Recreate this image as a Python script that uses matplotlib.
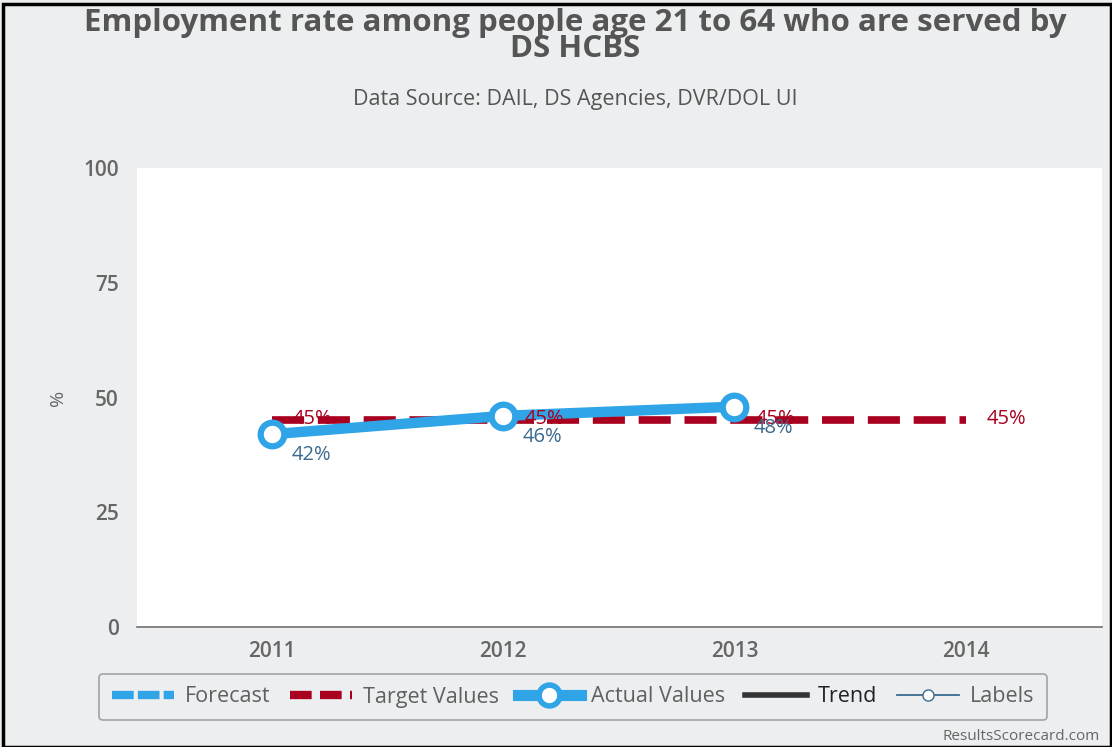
import matplotlib
matplotlib.use("Agg")
import matplotlib.pyplot as plt
from matplotlib.lines import Line2D
from matplotlib.patches import Rectangle

years = ["2011", "2012", "2013", "2014"]
actual = [42, 46, 48]
target = [45, 45, 45, 45]
actual_labels = ["42%", "46%", "48%"]
target_labels = ["45%", "45%", "45%", "45%"]

blue = "#2fa4e7"
red = "#a8001e"
label_blue = "#3a6a8f"
bg = "#eceeef"

plt.rcParams['font.family'] = ['Open Sans', 'DejaVu Sans']

fig = plt.figure(figsize=(11.12, 7.47), dpi=100, facecolor=bg)
ax = fig.add_axes([137 / 1112, 1 - 627 / 747, (1102 - 137) / 1112, (627 - 168) / 747])
ax.set_facecolor("white")

x_all = list(range(len(years)))
x_act = list(range(len(actual)))

ax.plot(x_all, target, color=red, lw=5.5, dashes=(4.2, 1.8), zorder=2)
ax.plot(x_act, actual, color=blue, lw=7.5, marker="o", ms=17, mfc="white",
        mec=blue, mew=4.5, zorder=3, solid_capstyle="round")

for xi, v, t in zip(x_all, target, target_labels):
    ax.annotate(t, (xi, v), xytext=(15, 1), textcoords="offset points",
                color=red, fontsize=14.5, va="center", ha="left", zorder=4)
for xi, v, t in zip(x_act, actual, actual_labels):
    ax.annotate(t, (xi, v), xytext=(14, -15), textcoords="offset points",
                color=label_blue, fontsize=14.5, va="center", ha="left", zorder=4)

ax.set_xlim(-0.585, 3.59)
ax.set_ylim(0, 100)
ax.set_yticks([0, 25, 50, 75, 100])
ax.set_xticks(x_all)
ax.set_xticklabels(years)
ax.tick_params(axis="both", length=0, labelsize=15, colors="#666666", pad=10)
ax.tick_params(axis="y", pad=13)
for lab in ax.get_xticklabels() + ax.get_yticklabels():
    lab.set_fontweight("semibold")
for s in ["top", "right", "left"]:
    ax.spines[s].set_visible(False)
ax.spines["bottom"].set_color("#707070")
ax.spines["bottom"].set_linewidth(1.2)
ax.set_ylabel("%", fontsize=14, color="#666666", labelpad=12)

fig.text(0.517, 1 - 36 / 747, "Employment rate among people age 21 to 64 who are served by\nDS HCBS",
         ha="center", va="center", fontsize=22.5, fontweight="bold", color="#555555",
         linespacing=0.8)
fig.text(0.517, 1 - 99 / 747, "Data Source: DAIL, DS Agencies, DVR/DOL UI",
         ha="center", va="center", fontsize=15.5, color="#555555")
fig.text(1100 / 1112, 1 - 737 / 747, "ResultsScorecard.com", ha="right", va="center",
         fontsize=11, color="#666666")

handles = [
    Line2D([], [], color=blue, lw=6, dashes=(2.6, 0.5)),
    Line2D([], [], color=red, lw=6, dashes=(2.6, 1.0)),
    Line2D([], [], color=blue, lw=8, marker="o", ms=15, mfc="white", mec=blue, mew=4),
    Line2D([], [], color="#333333", lw=4),
    Line2D([], [], color=label_blue, lw=1.3, marker="o", ms=8, mfc="white", mec=label_blue),
]
names = ["Forecast", "Target Values", "Actual Values", "Trend", "Labels"]
leg = fig.legend(handles, names, loc="center", bbox_to_anchor=(573 / 1112, 1 - 697 / 747),
                 ncol=5, frameon=True, fontsize=15.5, handlelength=2.9, columnspacing=0.9,
                 handletextpad=0.5, borderpad=0.6, borderaxespad=0, fancybox=True)
leg.get_frame().set_edgecolor("#909090")
leg.get_frame().set_facecolor(bg)
leg.get_frame().set_linewidth(1.2)
for t in leg.get_texts():
    t.set_color("#606060")
leg.get_texts()[3].set_color("#222222")

fig.patches.append(Rectangle((0.003, 0.0), 0.996, 0.995, transform=fig.transFigure,
                             fill=False, edgecolor="black", lw=2.5))

fig.savefig("out.png", dpi=100, facecolor=bg)
